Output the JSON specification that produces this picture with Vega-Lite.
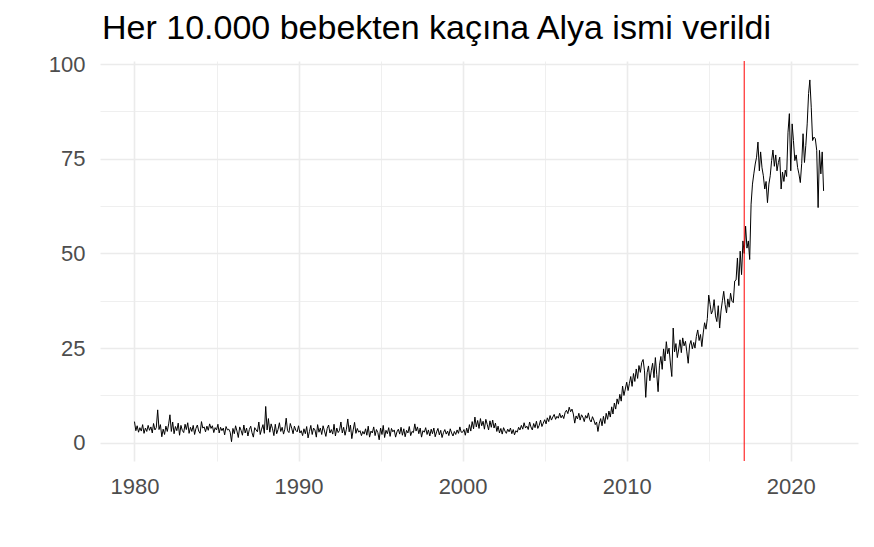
{
"$schema":"https://vega.github.io/schema/vega-lite/v6.json",
"width":758,"height":400,"autosize":"none",
"padding":{"left":100,"top":61,"right":16,"bottom":86},
"background":"white",
"title":{"text":"Her 10.000 bebekten kaçına Alya ismi verildi","anchor":"start","frame":"group","fontSize":34,"font":"Liberation Sans","fontWeight":"normal","color":"black","baseline":"alphabetic","offset":12,"dy":32,"dx":2},
"config":{"view":{"stroke":null}},
"layer":[
{"data":{"values":[
{"d":"1980-01","v":5.6},{"d":"1980-02","v":3.2},{"d":"1980-03","v":4.5},{"d":"1980-04","v":2.8},{"d":"1980-05","v":4.0},{"d":"1980-06","v":3.1},{"d":"1980-07","v":4.8},{"d":"1980-08","v":2.5},{"d":"1980-09","v":3.9},{"d":"1980-10","v":3.0},{"d":"1980-11","v":4.6},{"d":"1980-12","v":3.3},
{"d":"1981-01","v":4.2},{"d":"1981-02","v":2.6},{"d":"1981-03","v":5.1},{"d":"1981-04","v":3.4},{"d":"1981-05","v":4.0},{"d":"1981-06","v":8.7},{"d":"1981-07","v":3.5},{"d":"1981-08","v":4.8},{"d":"1981-09","v":1.6},{"d":"1981-10","v":3.6},{"d":"1981-11","v":2.2},{"d":"1981-12","v":4.4},
{"d":"1982-01","v":3.0},{"d":"1982-02","v":5.0},{"d":"1982-03","v":7.4},{"d":"1982-04","v":3.0},{"d":"1982-05","v":5.5},{"d":"1982-06","v":2.4},{"d":"1982-07","v":4.3},{"d":"1982-08","v":3.2},{"d":"1982-09","v":5.2},{"d":"1982-10","v":2.0},{"d":"1982-11","v":4.6},{"d":"1982-12","v":3.3},
{"d":"1983-01","v":2.7},{"d":"1983-02","v":4.9},{"d":"1983-03","v":3.5},{"d":"1983-04","v":5.3},{"d":"1983-05","v":2.5},{"d":"1983-06","v":4.1},{"d":"1983-07","v":3.0},{"d":"1983-08","v":4.6},{"d":"1983-09","v":2.2},{"d":"1983-10","v":3.8},{"d":"1983-11","v":4.7},{"d":"1983-12","v":3.1},
{"d":"1984-01","v":2.5},{"d":"1984-02","v":5.6},{"d":"1984-03","v":3.9},{"d":"1984-04","v":4.2},{"d":"1984-05","v":2.9},{"d":"1984-06","v":4.4},{"d":"1984-07","v":3.3},{"d":"1984-08","v":5.0},{"d":"1984-09","v":3.8},{"d":"1984-10","v":4.5},{"d":"1984-11","v":2.7},{"d":"1984-12","v":4.0},
{"d":"1985-01","v":3.4},{"d":"1985-02","v":4.9},{"d":"1985-03","v":2.6},{"d":"1985-04","v":4.1},{"d":"1985-05","v":3.2},{"d":"1985-06","v":3.9},{"d":"1985-07","v":2.1},{"d":"1985-08","v":4.3},{"d":"1985-09","v":3.4},{"d":"1985-10","v":3.6},{"d":"1985-11","v":2.8},{"d":"1985-12","v":0.3},
{"d":"1986-01","v":3.8},{"d":"1986-02","v":2.4},{"d":"1986-03","v":4.5},{"d":"1986-04","v":3.1},{"d":"1986-05","v":1.4},{"d":"1986-06","v":4.2},{"d":"1986-07","v":3.3},{"d":"1986-08","v":2.0},{"d":"1986-09","v":4.7},{"d":"1986-10","v":2.6},{"d":"1986-11","v":3.9},{"d":"1986-12","v":1.8},
{"d":"1987-01","v":3.5},{"d":"1987-02","v":4.4},{"d":"1987-03","v":2.7},{"d":"1987-04","v":1.5},{"d":"1987-05","v":4.0},{"d":"1987-06","v":3.4},{"d":"1987-07","v":2.9},{"d":"1987-08","v":5.5},{"d":"1987-09","v":2.2},{"d":"1987-10","v":3.6},{"d":"1987-11","v":4.8},{"d":"1987-12","v":2.5},
{"d":"1988-01","v":9.6},{"d":"1988-02","v":3.4},{"d":"1988-03","v":6.4},{"d":"1988-04","v":2.8},{"d":"1988-05","v":5.0},{"d":"1988-06","v":3.7},{"d":"1988-07","v":1.9},{"d":"1988-08","v":4.9},{"d":"1988-09","v":2.4},{"d":"1988-10","v":3.5},{"d":"1988-11","v":5.3},{"d":"1988-12","v":3.0},
{"d":"1989-01","v":4.1},{"d":"1989-02","v":2.3},{"d":"1989-03","v":3.6},{"d":"1989-04","v":6.5},{"d":"1989-05","v":3.2},{"d":"1989-06","v":2.7},{"d":"1989-07","v":5.1},{"d":"1989-08","v":3.9},{"d":"1989-09","v":2.4},{"d":"1989-10","v":4.4},{"d":"1989-11","v":3.3},{"d":"1989-12","v":2.9},
{"d":"1990-01","v":4.5},{"d":"1990-02","v":2.6},{"d":"1990-03","v":3.2},{"d":"1990-04","v":1.9},{"d":"1990-05","v":3.7},{"d":"1990-06","v":2.4},{"d":"1990-07","v":4.3},{"d":"1990-08","v":1.3},{"d":"1990-09","v":3.0},{"d":"1990-10","v":4.6},{"d":"1990-11","v":2.2},{"d":"1990-12","v":3.9},
{"d":"1991-01","v":3.4},{"d":"1991-02","v":1.5},{"d":"1991-03","v":4.8},{"d":"1991-04","v":2.8},{"d":"1991-05","v":3.9},{"d":"1991-06","v":2.2},{"d":"1991-07","v":4.5},{"d":"1991-08","v":3.1},{"d":"1991-09","v":1.7},{"d":"1991-10","v":3.8},{"d":"1991-11","v":4.7},{"d":"1991-12","v":2.6},
{"d":"1992-01","v":3.5},{"d":"1992-02","v":2.3},{"d":"1992-03","v":4.9},{"d":"1992-04","v":1.8},{"d":"1992-05","v":3.9},{"d":"1992-06","v":2.7},{"d":"1992-07","v":3.3},{"d":"1992-08","v":5.5},{"d":"1992-09","v":2.6},{"d":"1992-10","v":4.1},{"d":"1992-11","v":2.0},{"d":"1992-12","v":3.6},
{"d":"1993-01","v":6.3},{"d":"1993-02","v":2.9},{"d":"1993-03","v":4.7},{"d":"1993-04","v":1.1},{"d":"1993-05","v":3.4},{"d":"1993-06","v":5.4},{"d":"1993-07","v":2.5},{"d":"1993-08","v":3.8},{"d":"1993-09","v":2.8},{"d":"1993-10","v":3.2},{"d":"1993-11","v":1.9},{"d":"1993-12","v":3.0},
{"d":"1994-01","v":2.3},{"d":"1994-02","v":3.7},{"d":"1994-03","v":2.0},{"d":"1994-04","v":4.4},{"d":"1994-05","v":1.5},{"d":"1994-06","v":3.1},{"d":"1994-07","v":2.6},{"d":"1994-08","v":4.2},{"d":"1994-09","v":1.9},{"d":"1994-10","v":3.5},{"d":"1994-11","v":2.7},{"d":"1994-12","v":0.8},
{"d":"1995-01","v":3.9},{"d":"1995-02","v":2.2},{"d":"1995-03","v":4.6},{"d":"1995-04","v":1.4},{"d":"1995-05","v":3.3},{"d":"1995-06","v":2.4},{"d":"1995-07","v":4.0},{"d":"1995-08","v":1.7},{"d":"1995-09","v":3.8},{"d":"1995-10","v":2.9},{"d":"1995-11","v":3.4},{"d":"1995-12","v":1.5},
{"d":"1996-01","v":2.9},{"d":"1996-02","v":3.6},{"d":"1996-03","v":2.3},{"d":"1996-04","v":4.1},{"d":"1996-05","v":2.0},{"d":"1996-06","v":3.7},{"d":"1996-07","v":1.6},{"d":"1996-08","v":3.3},{"d":"1996-09","v":2.6},{"d":"1996-10","v":4.3},{"d":"1996-11","v":1.9},{"d":"1996-12","v":3.0},
{"d":"1997-01","v":2.7},{"d":"1997-02","v":5.0},{"d":"1997-03","v":3.1},{"d":"1997-04","v":4.2},{"d":"1997-05","v":2.4},{"d":"1997-06","v":3.9},{"d":"1997-07","v":1.5},{"d":"1997-08","v":3.2},{"d":"1997-09","v":2.8},{"d":"1997-10","v":4.0},{"d":"1997-11","v":2.2},{"d":"1997-12","v":3.4},
{"d":"1998-01","v":1.8},{"d":"1998-02","v":3.6},{"d":"1998-03","v":2.4},{"d":"1998-04","v":3.9},{"d":"1998-05","v":1.6},{"d":"1998-06","v":2.9},{"d":"1998-07","v":3.8},{"d":"1998-08","v":2.1},{"d":"1998-09","v":3.3},{"d":"1998-10","v":1.4},{"d":"1998-11","v":2.7},{"d":"1998-12","v":3.5},
{"d":"1999-01","v":2.3},{"d":"1999-02","v":3.1},{"d":"1999-03","v":1.9},{"d":"1999-04","v":3.7},{"d":"1999-05","v":2.6},{"d":"1999-06","v":1.8},{"d":"1999-07","v":3.0},{"d":"1999-08","v":2.2},{"d":"1999-09","v":3.4},{"d":"1999-10","v":2.5},{"d":"1999-11","v":4.2},{"d":"1999-12","v":2.8},
{"d":"2000-01","v":2.8},{"d":"2000-02","v":3.5},{"d":"2000-03","v":2.0},{"d":"2000-04","v":3.9},{"d":"2000-05","v":2.6},{"d":"2000-06","v":4.8},{"d":"2000-07","v":3.1},{"d":"2000-08","v":5.6},{"d":"2000-09","v":3.7},{"d":"2000-10","v":6.8},{"d":"2000-11","v":4.2},{"d":"2000-12","v":5.9},
{"d":"2001-01","v":3.8},{"d":"2001-02","v":6.4},{"d":"2001-03","v":4.5},{"d":"2001-04","v":5.7},{"d":"2001-05","v":3.6},{"d":"2001-06","v":6.2},{"d":"2001-07","v":4.9},{"d":"2001-08","v":3.4},{"d":"2001-09","v":5.8},{"d":"2001-10","v":4.1},{"d":"2001-11","v":6.0},{"d":"2001-12","v":3.9},
{"d":"2002-01","v":5.2},{"d":"2002-02","v":3.0},{"d":"2002-03","v":4.4},{"d":"2002-04","v":2.6},{"d":"2002-05","v":3.8},{"d":"2002-06","v":2.3},{"d":"2002-07","v":4.0},{"d":"2002-08","v":3.1},{"d":"2002-09","v":2.5},{"d":"2002-10","v":3.6},{"d":"2002-11","v":2.9},{"d":"2002-12","v":3.9},
{"d":"2003-01","v":2.4},{"d":"2003-02","v":3.5},{"d":"2003-03","v":2.1},{"d":"2003-04","v":3.2},{"d":"2003-05","v":2.8},{"d":"2003-06","v":4.1},{"d":"2003-07","v":3.4},{"d":"2003-08","v":4.6},{"d":"2003-09","v":3.6},{"d":"2003-10","v":5.3},{"d":"2003-11","v":3.9},{"d":"2003-12","v":4.4},
{"d":"2004-01","v":3.5},{"d":"2004-02","v":5.5},{"d":"2004-03","v":4.2},{"d":"2004-04","v":3.4},{"d":"2004-05","v":5.1},{"d":"2004-06","v":4.0},{"d":"2004-07","v":5.7},{"d":"2004-08","v":3.8},{"d":"2004-09","v":4.6},{"d":"2004-10","v":6.0},{"d":"2004-11","v":4.3},{"d":"2004-12","v":5.2},
{"d":"2005-01","v":6.1},{"d":"2005-02","v":5.0},{"d":"2005-03","v":6.6},{"d":"2005-04","v":5.6},{"d":"2005-05","v":7.2},{"d":"2005-06","v":6.0},{"d":"2005-07","v":6.8},{"d":"2005-08","v":7.5},{"d":"2005-09","v":6.2},{"d":"2005-10","v":7.0},{"d":"2005-11","v":6.5},{"d":"2005-12","v":7.8},
{"d":"2006-01","v":6.6},{"d":"2006-02","v":7.3},{"d":"2006-03","v":6.4},{"d":"2006-04","v":8.0},{"d":"2006-05","v":8.6},{"d":"2006-06","v":7.7},{"d":"2006-07","v":9.4},{"d":"2006-08","v":8.2},{"d":"2006-09","v":8.9},{"d":"2006-10","v":7.6},{"d":"2006-11","v":5.2},{"d":"2006-12","v":7.1},
{"d":"2007-01","v":6.3},{"d":"2007-02","v":7.8},{"d":"2007-03","v":6.0},{"d":"2007-04","v":7.4},{"d":"2007-05","v":6.8},{"d":"2007-06","v":5.6},{"d":"2007-07","v":7.2},{"d":"2007-08","v":6.5},{"d":"2007-09","v":7.9},{"d":"2007-10","v":6.1},{"d":"2007-11","v":5.5},{"d":"2007-12","v":6.9},
{"d":"2008-01","v":6.0},{"d":"2008-02","v":4.8},{"d":"2008-03","v":5.5},{"d":"2008-04","v":3.0},{"d":"2008-05","v":5.2},{"d":"2008-06","v":6.4},{"d":"2008-07","v":4.5},{"d":"2008-08","v":7.0},{"d":"2008-09","v":5.1},{"d":"2008-10","v":7.8},{"d":"2008-11","v":6.2},{"d":"2008-12","v":8.4},
{"d":"2009-01","v":6.8},{"d":"2009-02","v":9.5},{"d":"2009-03","v":7.6},{"d":"2009-04","v":10.5},{"d":"2009-05","v":8.9},{"d":"2009-06","v":11.6},{"d":"2009-07","v":10.2},{"d":"2009-08","v":12.8},{"d":"2009-09","v":11.0},{"d":"2009-10","v":15.0},{"d":"2009-11","v":12.5},{"d":"2009-12","v":14.2},
{"d":"2010-01","v":16.0},{"d":"2010-02","v":13.8},{"d":"2010-03","v":15.6},{"d":"2010-04","v":17.5},{"d":"2010-05","v":14.9},{"d":"2010-06","v":18.3},{"d":"2010-07","v":16.2},{"d":"2010-08","v":19.5},{"d":"2010-09","v":17.0},{"d":"2010-10","v":20.4},{"d":"2010-11","v":18.6},{"d":"2010-12","v":21.2},
{"d":"2011-01","v":22.0},{"d":"2011-02","v":19.0},{"d":"2011-03","v":12.0},{"d":"2011-04","v":18.5},{"d":"2011-05","v":20.3},{"d":"2011-06","v":16.4},{"d":"2011-07","v":19.0},{"d":"2011-08","v":21.0},{"d":"2011-09","v":17.2},{"d":"2011-10","v":22.5},{"d":"2011-11","v":18.0},{"d":"2011-12","v":13.5},
{"d":"2012-01","v":20.5},{"d":"2012-02","v":22.8},{"d":"2012-03","v":19.4},{"d":"2012-04","v":24.8},{"d":"2012-05","v":21.6},{"d":"2012-06","v":26.7},{"d":"2012-07","v":23.5},{"d":"2012-08","v":25.0},{"d":"2012-09","v":20.8},{"d":"2012-10","v":17.5},{"d":"2012-11","v":30.3},{"d":"2012-12","v":24.0},
{"d":"2013-01","v":26.2},{"d":"2013-02","v":22.5},{"d":"2013-03","v":24.5},{"d":"2013-04","v":27.2},{"d":"2013-05","v":23.8},{"d":"2013-06","v":27.7},{"d":"2013-07","v":25.6},{"d":"2013-08","v":26.8},{"d":"2013-09","v":24.0},{"d":"2013-10","v":21.0},{"d":"2013-11","v":25.8},{"d":"2013-12","v":27.0},
{"d":"2014-01","v":24.8},{"d":"2014-02","v":26.5},{"d":"2014-03","v":25.0},{"d":"2014-04","v":28.1},{"d":"2014-05","v":29.8},{"d":"2014-06","v":27.0},{"d":"2014-07","v":28.6},{"d":"2014-08","v":25.4},{"d":"2014-09","v":29.0},{"d":"2014-10","v":31.7},{"d":"2014-11","v":30.0},{"d":"2014-12","v":32.8},
{"d":"2015-01","v":39.0},{"d":"2015-02","v":36.5},{"d":"2015-03","v":34.0},{"d":"2015-04","v":35.0},{"d":"2015-05","v":37.8},{"d":"2015-06","v":33.5},{"d":"2015-07","v":32.0},{"d":"2015-08","v":36.2},{"d":"2015-09","v":30.3},{"d":"2015-10","v":34.8},{"d":"2015-11","v":37.5},{"d":"2015-12","v":40.0},
{"d":"2016-01","v":36.5},{"d":"2016-02","v":34.3},{"d":"2016-03","v":38.0},{"d":"2016-04","v":35.8},{"d":"2016-05","v":39.5},{"d":"2016-06","v":37.4},{"d":"2016-07","v":37.0},{"d":"2016-08","v":42.7},{"d":"2016-09","v":43.0},{"d":"2016-10","v":48.8},{"d":"2016-11","v":41.5},{"d":"2016-12","v":50.6},
{"d":"2017-01","v":44.4},{"d":"2017-02","v":53.3},{"d":"2017-03","v":50.0},{"d":"2017-04","v":57.2},{"d":"2017-05","v":51.4},{"d":"2017-06","v":53.3},{"d":"2017-07","v":48.4},{"d":"2017-08","v":63.0},{"d":"2017-09","v":68.3},{"d":"2017-10","v":71.0},{"d":"2017-11","v":73.6},{"d":"2017-12","v":75.4},
{"d":"2018-01","v":79.4},{"d":"2018-02","v":71.8},{"d":"2018-03","v":76.8},{"d":"2018-04","v":72.6},{"d":"2018-05","v":70.5},{"d":"2018-06","v":67.0},{"d":"2018-07","v":69.0},{"d":"2018-08","v":63.4},{"d":"2018-09","v":68.3},{"d":"2018-10","v":70.5},{"d":"2018-11","v":74.5},{"d":"2018-12","v":77.3},
{"d":"2019-01","v":73.0},{"d":"2019-02","v":76.0},{"d":"2019-03","v":71.8},{"d":"2019-04","v":74.0},{"d":"2019-05","v":75.4},{"d":"2019-06","v":67.0},{"d":"2019-07","v":71.5},{"d":"2019-08","v":69.0},{"d":"2019-09","v":72.0},{"d":"2019-10","v":70.3},{"d":"2019-11","v":82.0},{"d":"2019-12","v":86.9},
{"d":"2020-01","v":71.8},{"d":"2020-02","v":84.2},{"d":"2020-03","v":79.8},{"d":"2020-04","v":74.5},{"d":"2020-05","v":76.0},{"d":"2020-06","v":72.7},{"d":"2020-07","v":71.0},{"d":"2020-08","v":68.7},{"d":"2020-09","v":73.8},{"d":"2020-10","v":81.6},{"d":"2020-11","v":74.0},{"d":"2020-12","v":78.5},
{"d":"2021-01","v":84.2},{"d":"2021-02","v":92.2},{"d":"2021-03","v":95.8},{"d":"2021-04","v":88.6},{"d":"2021-05","v":79.8},{"d":"2021-06","v":80.7},{"d":"2021-07","v":80.3},{"d":"2021-08","v":77.2},{"d":"2021-09","v":62.1},{"d":"2021-10","v":77.2},{"d":"2021-11","v":71.0},{"d":"2021-12","v":76.8},
{"d":"2022-01","v":66.5}
]},
"mark":{"type":"line","color":"black","strokeWidth":1},
"encoding":{
"x":{"field":"d","type":"temporal",
"scale":{"type":"utc","domain":[{"year":1977,"month":11,"date":25,"utc":true},{"year":2024,"month":2,"date":6,"utc":true}]},
"axis":{"values":[{"year":1980,"utc":true},{"year":1985,"utc":true},{"year":1990,"utc":true},{"year":1995,"utc":true},{"year":2000,"utc":true},{"year":2005,"utc":true},{"year":2010,"utc":true},{"year":2015,"utc":true},{"year":2020,"utc":true}],
"format":"%Y","formatType":"utc","labelExpr":"utcyear(datum.value) % 10 === 0 ? datum.label : ''",
"grid":true,"gridColor":"#EBEBEB","gridWidth":{"condition":{"test":"utcyear(datum.value) % 10 === 0","value":1.6},"value":0.8},
"domain":false,"ticks":false,"title":null,"labelFontSize":22,"labelFont":"Liberation Sans","labelColor":"#4D4D4D","labelPadding":15,"labelFlush":false,"labelOverlap":false}},
"y":{"field":"v","type":"quantitative",
"scale":{"domain":[-4.8,100.8],"nice":false,"zero":false},
"axis":{"values":[0,12.5,25,37.5,50,62.5,75,87.5,100],"format":"d","labelExpr":"datum.value % 25 === 0 ? datum.label : ''",
"grid":true,"gridColor":"#EBEBEB","gridWidth":{"condition":{"test":"datum.value % 25 === 0","value":1.6},"value":0.8},
"domain":false,"ticks":false,"title":null,"labelFontSize":22,"labelFont":"Liberation Sans","labelColor":"#4D4D4D","labelPadding":15,"labelOverlap":false}}
}},
{"data":{"values":[{"d":"2017-03-01"}]},
"mark":{"type":"rule","color":"#FF0000","strokeWidth":1},
"encoding":{"x":{"field":"d","type":"temporal"}}}
]
}
